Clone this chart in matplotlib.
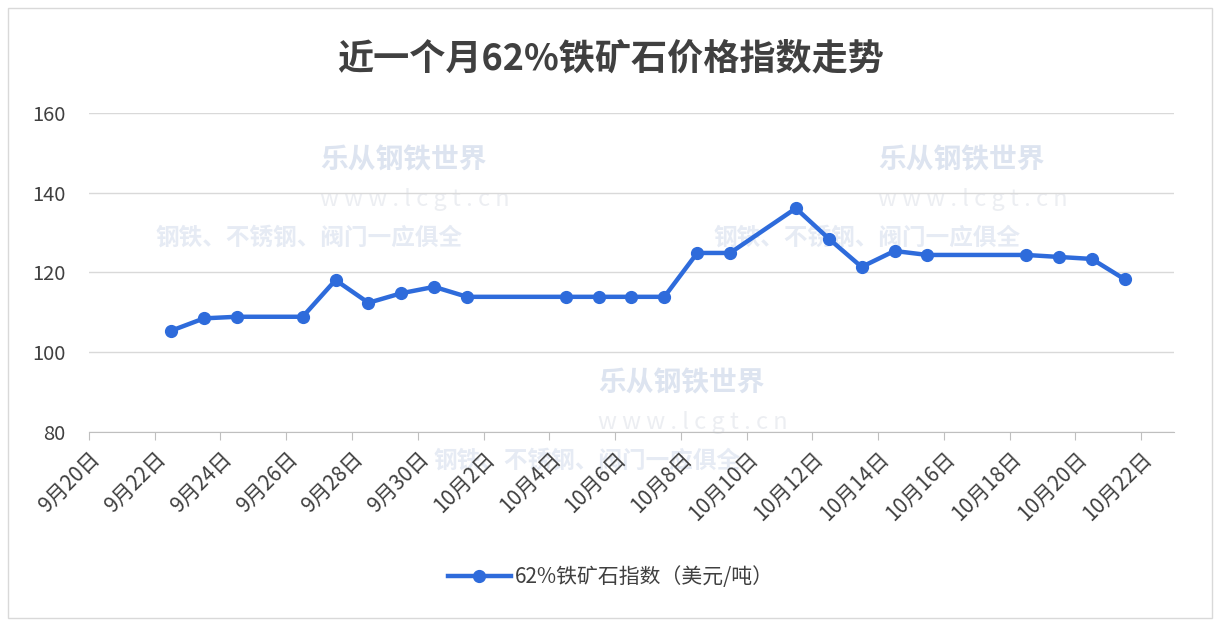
import matplotlib
matplotlib.use('Agg')
import matplotlib.pyplot as plt
import pandas as pd
from matplotlib.patches import Rectangle

plt.rcParams['font.family'] = ['Noto Sans CJK SC', 'DejaVu Sans']

# data
dates = ['2021-09-22', '2021-09-23', '2021-09-24', '2021-09-26', '2021-09-27', '2021-09-28',
         '2021-09-29', '2021-09-30', '2021-10-01', '2021-10-04', '2021-10-05', '2021-10-06',
         '2021-10-07', '2021-10-08', '2021-10-09', '2021-10-11', '2021-10-12', '2021-10-13',
         '2021-10-14', '2021-10-15', '2021-10-18', '2021-10-19', '2021-10-20', '2021-10-21']
values = [105.4, 108.5, 108.9, 108.9, 118.1, 112.4, 114.8, 116.4, 113.9, 113.9, 113.9, 113.9,
          113.9, 124.9, 124.9, 136.1, 128.5, 121.4, 125.4, 124.4, 124.4, 123.9, 123.4, 118.3]
start = '2021-09-20'
tick_labels = ['9月20日', '9月22日', '9月24日', '9月26日', '9月28日', '9月30日', '10月2日',
               '10月4日', '10月6日', '10月8日', '10月10日', '10月12日', '10月14日',
               '10月16日', '10月18日', '10月20日', '10月22日']
series_name = '62%铁矿石指数（美元/吨）'
title = '近一个月62%铁矿石价格指数走势'

# days since start, points sit in the middle of each day slot
x = (pd.to_datetime(dates) - pd.Timestamp(start)).days + 0.5

fig = plt.figure(figsize=(12.22, 6.26), dpi=100)
ax = fig.add_axes([0.0728, 0.3099, 0.8879, 0.5096])
ax.set_zorder(1)

# faint watermark text
for (wx, wy) in [(320, 160), (878, 160), (598, 383)]:
    fig.text(wx / 1222, 1 - wy / 626, '乐从钢铁世界', fontsize=20, color='#dde4f0', fontweight='bold', va='center', zorder=0)
    fig.text(wx / 1222, 1 - (wy + 40) / 626, 'w w w . l c g t . c n', fontsize=17, color='#eceef2', va='center', zorder=0)
    fig.text((wx - 165) / 1222, 1 - (wy + 78) / 626, '钢铁、不锈钢、阀门一应俱全', fontsize=17, color='#e6ebf4',
             fontweight='bold', va='center', zorder=0)

ax.plot(x, values, color='#2e6bdb', lw=3.2, marker='o', ms=8.5, label=series_name, zorder=3)

ax.set_xlim(0, 33)
ax.set_ylim(80, 160)
ax.set_yticks([80, 100, 120, 140, 160])
ax.set_xticks(range(0, 33, 2))
ax.set_xticklabels(tick_labels, rotation=45, ha='right', rotation_mode='anchor')
ax.tick_params(axis='x', colors='#bfbfbf', length=6, labelcolor='#404040', labelsize=15, pad=5)
ax.tick_params(axis='y', length=0, labelcolor='#404040', labelsize=14.5, pad=17)
ax.grid(axis='y', color='#d9d9d9', lw=1)
ax.set_axisbelow(True)
for s in ['left', 'right', 'top']:
    ax.spines[s].set_visible(False)
ax.spines['bottom'].set_color('#bfbfbf')
ax.patch.set_alpha(0)

fig.suptitle(title, x=0.5, y=0.935, fontsize=26, fontweight='bold', color='#404040')

fig.legend(loc='center', bbox_to_anchor=(0.5, 1 - 577 / 626), frameon=False, fontsize=15,
           handlelength=3, handletextpad=0.2, labelcolor='#404040')

fig.patches.append(Rectangle((8 / 1222, 8 / 626), 1204 / 1222, 610 / 626, transform=fig.transFigure,
                             fill=False, edgecolor='#d9d9d9', lw=1))

fig.savefig('out.png', dpi=100)
